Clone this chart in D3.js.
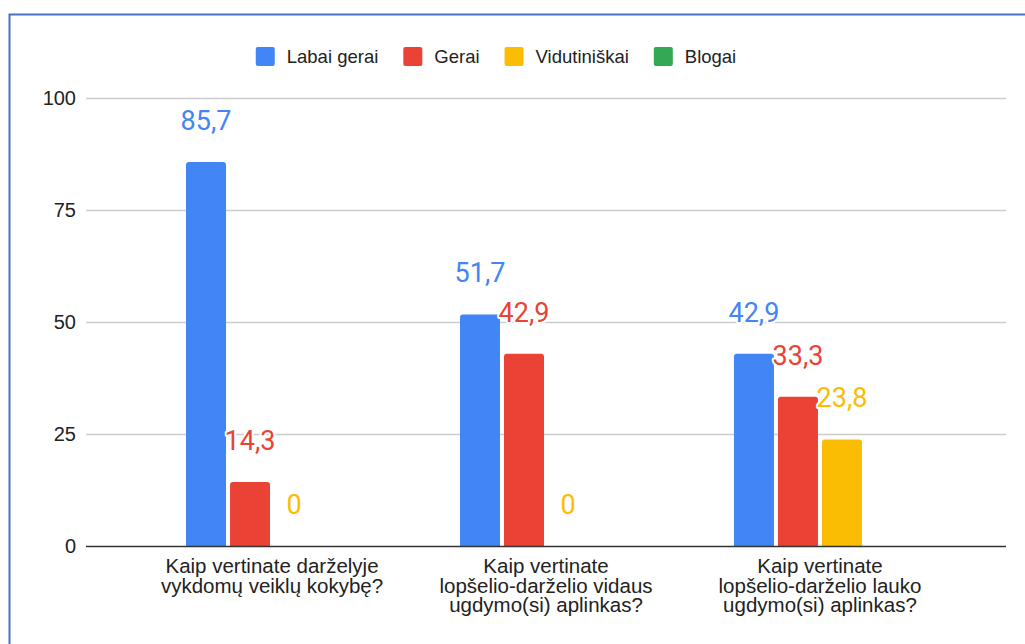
<!DOCTYPE html>
<html>
<head>
<meta charset="utf-8">
<script src="https://cdn.jsdelivr.net/npm/d3@7"></script>
<style>
  html, body { margin: 0; padding: 0; background: #fff; }
  svg { display: block; }
</style>
</head>
<body>
<svg id="chart" width="1025" height="644"></svg>
<script>
const categories = [
  "Kaip vertinate darželyje vykdomų veiklų kokybę?",
  "Kaip vertinate lopšelio-darželio vidaus ugdymo(si) aplinkas?",
  "Kaip vertinate lopšelio-darželio lauko ugdymo(si) aplinkas?"
];
const categoryLines = [
  ["Kaip vertinate darželyje", "vykdomų veiklų kokybę?"],
  ["Kaip vertinate", "lopšelio-darželio vidaus", "ugdymo(si) aplinkas?"],
  ["Kaip vertinate", "lopšelio-darželio lauko", "ugdymo(si) aplinkas?"]
];
const seriesNames = ["Labai gerai", "Gerai", "Vidutiniškai", "Blogai"];
const seriesColors = ["#4285F4", "#EA4335", "#FBBC04", "#34A853"];
const labaiGerai = [85.7, 51.7, 42.9];
const gerai = [14.3, 42.9, 33.3];
const vidutiniskai = [0, 0, 23.8];
const blogai = [null, null, null];
const yTicks = [0, 25, 50, 75, 100];

const seriesValues = [labaiGerai, gerai, vidutiniskai, blogai];

const svg = d3.select("#chart");
const m = { left: 86, right: 1006, top: 98, bottom: 546 };

// Outer frame
svg.append("rect")
  .attr("x", 9.5).attr("y", 14.5)
  .attr("width", 1100).attr("height", 700)
  .attr("fill", "none").attr("stroke", "#4472C4").attr("stroke-width", 2);

const y = d3.scaleLinear().domain([0, 100]).range([m.bottom, m.top]);
const x0 = d3.scaleBand().domain(categories).range([m.left, m.right])
  .paddingInner(0.372).paddingOuter(0.365);
const x1 = d3.scaleBand().domain(seriesNames).range([0, x0.bandwidth()])
  .paddingInner(0.0909).paddingOuter(0);

// Gridlines
svg.append("g").selectAll("line").data(yTicks.filter(t => t !== 0)).join("line")
  .attr("x1", m.left).attr("x2", m.right)
  .attr("y1", d => y(d) + 0.5).attr("y2", d => y(d) + 0.5)
  .attr("stroke", "#cccccc").attr("stroke-width", 1.5);

// Y axis labels
const yAxis = d3.axisLeft(y).tickValues(yTicks).tickSize(0).tickPadding(10).tickFormat(d3.format("d"));
const gy = svg.append("g").attr("transform", `translate(${m.left},0)`).call(yAxis);
gy.select(".domain").remove();
gy.selectAll("text")
  .attr("font-family", "Liberation Sans, Arial, sans-serif")
  .attr("font-size", 20).attr("fill", "#222");

// Bars
const data = [];
categories.forEach((c, i) => {
  seriesNames.forEach((s, j) => {
    data.push({ cat: c, ci: i, series: s, si: j, value: seriesValues[j][i] });
  });
});

function barPath(xp, w, yt, yb, r) {
  const h = yb - yt;
  if (h <= 0) return "";
  r = Math.min(r, h, w / 2);
  return `M${xp},${yb}V${yt + r}Q${xp},${yt} ${xp + r},${yt}H${xp + w - r}Q${xp + w},${yt} ${xp + w},${yt + r}V${yb}Z`;
}

svg.append("g").selectAll("path").data(data.filter(d => d.value != null && d.value > 0)).join("path")
  .attr("d", d => barPath(x0(d.cat) + x1(d.series), x1.bandwidth(), y(d.value), y(0), 3))
  .attr("fill", d => seriesColors[d.si]);

// Baseline
svg.append("line")
  .attr("x1", m.left).attr("x2", m.right)
  .attr("y1", y(0) + 0.5).attr("y2", y(0) + 0.5)
  .attr("stroke", "#333").attr("stroke-width", 1.5);

// Value labels
const fmt = v => String(v).replace(".", ",");
svg.append("g").selectAll("text").data(data.filter(d => d.value != null)).join("text")
  .attr("x", d => x0(d.cat) + x1(d.series) + x1.bandwidth() / 2)
  .attr("y", d => y(d.value) - 32)
  .attr("text-anchor", "middle")
  .attr("font-family", "Roboto, sans-serif")
  .attr("font-size", 27)
  .attr("fill", d => seriesColors[d.si])
  .attr("stroke", "#fff").attr("stroke-width", 4).attr("paint-order", "stroke")
  .attr("stroke-linejoin", "round")
  .text(d => fmt(d.value));

// Category labels
const gx = svg.append("g");
categories.forEach((c, i) => {
  const cx = x0(c) + x0.bandwidth() / 2;
  const t = gx.append("text")
    .attr("text-anchor", "middle")
    .attr("font-family", "Liberation Sans, Arial, sans-serif")
    .attr("font-size", 20.5).attr("fill", "#222");
  categoryLines[i].forEach((ln, k) => {
    t.append("tspan").attr("x", cx).attr("y", 573 + k * 19.5).text(ln);
  });
});

// Legend
const lg = svg.append("g");
let cursor = 0;
seriesNames.forEach((s, j) => {
  const g = lg.append("g");
  g.append("rect").attr("x", cursor).attr("y", 47).attr("width", 19).attr("height", 19)
    .attr("rx", 2).attr("fill", seriesColors[j]);
  const tx = g.append("text").attr("x", cursor + 31).attr("y", 63)
    .attr("font-family", "Liberation Sans, Arial, sans-serif")
    .attr("font-size", 18.5).attr("fill", "#222").text(s);
  const tw = tx.node().getComputedTextLength();
  cursor += 31 + tw + 25;
});
const total = cursor - 25;
lg.attr("transform", `translate(${496 - total / 2},0)`);
</script>
</body>
</html>
